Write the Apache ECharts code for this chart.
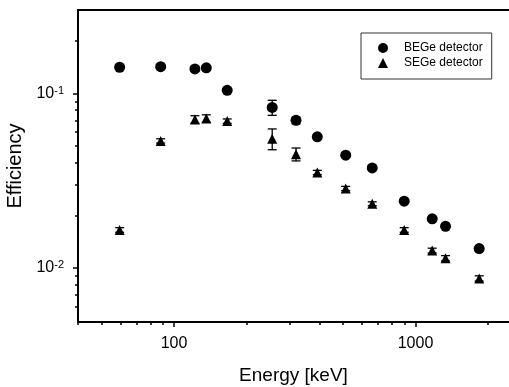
<!DOCTYPE html>
<html>
<head>
<meta charset="utf-8">
<script src="https://cdn.jsdelivr.net/npm/echarts@6/dist/echarts.min.js"></script>
<style>
  html, body { margin: 0; padding: 0; background: #fff; }
  #chart { width: 509px; height: 387px; }
</style>
</head>
<body>
<div id="chart"></div>
<script>
// gamma line energies (keV)
const energies = [59.5, 88, 122, 136, 166, 255, 320, 392, 514, 662, 898, 1173, 1332, 1836]

const begeEff = [0.141, 0.142, 0.138, 0.140, 0.104, 0.083, 0.070, 0.0563, 0.0442, 0.0374, 0.0241, 0.0191, 0.0173, 0.0129]
const begeErr = [0.001, 0.001, 0.004, 0.004, 0.002, 0.0082, 0.003, 0.001, 0.0008, 0.0008, 0.0004, 0.0003, 0.0003, 0.0002]

const segeEff = [0.0165, 0.0534, 0.0709, 0.0718, 0.0693, 0.0550, 0.0448, 0.0352, 0.0285, 0.0233, 0.0165, 0.01257, 0.01136, 0.00871]
const segeErr = [0.0005, 0.0015, 0.0035, 0.0035, 0.002, 0.0075, 0.0038, 0.001, 0.0008, 0.0006, 0.0005, 0.0004, 0.0004, 0.0003]

const xMajorTicks = [100, 1000]
const xMinorTicks = [40, 50, 60, 70, 80, 90, 200, 300, 400, 500, 600, 700, 800, 900, 2000]
const yMajorTicks = [0.01, 0.1]
const yMinorTicks = [0.006, 0.007, 0.008, 0.009, 0.02, 0.03, 0.04, 0.05, 0.06, 0.07, 0.08, 0.09, 0.2]

const FONT = 'Liberation Sans, Arial, sans-serif'
const X_MIN = 40, X_MAX = 2440
const Y_MIN = 0.0049, Y_MAX = 0.3

const chart = echarts.init(document.getElementById('chart'), null, { renderer: 'canvas' })

const gridRect = { left: 78, right: 0, top: 10, bottom: 65, containLabel: false, outerBoundsMode: 'none' }

function errData(eff, err) {
  return energies.map((e, i) => [e, eff[i] - err[i], eff[i] + err[i]])
}

function renderErrorBar(params, api) {
  const x = api.value(0)
  const top = api.coord([x, api.value(2)])
  const bot = api.coord([x, api.value(1)])
  const half = 4.5
  const style = { stroke: '#000', lineWidth: 1.3 }
  return {
    type: 'group',
    children: [
      { type: 'line', shape: { x1: top[0], y1: top[1], x2: bot[0], y2: bot[1] }, style },
      { type: 'line', shape: { x1: top[0] - half, y1: top[1], x2: top[0] + half, y2: top[1] }, style },
      { type: 'line', shape: { x1: bot[0] - half, y1: bot[1], x2: bot[0] + half, y2: bot[1] }, style },
    ],
  }
}

const hidden = { show: false }

chart.setOption({
  animation: false,
  textStyle: { fontFamily: FONT, color: '#000' },
  grid: [
    Object.assign({}, gridRect),
    Object.assign({}, gridRect),
  ],
  legend: {
    left: 361,
    top: 33,
    orient: 'vertical',
    padding: [8, 9, 9, 17],
    itemGap: 1,
    itemWidth: 10,
    itemHeight: 10,
    borderColor: '#333',
    borderWidth: 1,
    selectedMode: false,
    textStyle: { fontFamily: FONT, fontSize: 12, color: '#000', lineHeight: 14, padding: [0, 0, 0, 11] },
    data: [
      { name: 'BEGe detector', icon: 'circle' },
      { name: 'SEGe detector', icon: 'triangle' },
    ],
  },
  xAxis: [
    {
      type: 'log', gridIndex: 0, position: 'bottom', min: X_MIN, max: X_MAX,
      name: 'Energy [keV]', nameLocation: 'middle', nameGap: 44,
      nameTextStyle: { fontFamily: FONT, fontSize: 19, color: '#000' },
      axisLine: { show: true, lineStyle: { color: '#000', width: 2 } },
      axisTick: { show: true, length: 5, lineStyle: { color: '#000', width: 1.5 }, customValues: xMajorTicks },
      axisLabel: {
        show: true, margin: 14, fontFamily: FONT, fontSize: 16, color: '#000',
        customValues: xMajorTicks, formatter: (v) => String(Math.round(v)),
      },
      splitLine: hidden, minorTick: hidden,
    },
    {
      type: 'log', gridIndex: 0, position: 'top', min: X_MIN, max: X_MAX,
      axisLine: { show: true, lineStyle: { color: '#000', width: 2 } },
      axisTick: hidden, axisLabel: hidden, splitLine: hidden,
    },
    {
      type: 'log', gridIndex: 1, position: 'bottom', min: X_MIN, max: X_MAX,
      axisLine: hidden,
      axisTick: { show: true, length: 3, lineStyle: { color: '#000', width: 1.5 }, customValues: xMinorTicks },
      axisLabel: hidden, splitLine: hidden,
    },
  ],
  yAxis: [
    {
      type: 'log', gridIndex: 0, position: 'left', min: Y_MIN, max: Y_MAX,
      name: 'Efficiency', nameLocation: 'middle', nameGap: 48,
      nameTextStyle: { fontFamily: FONT, fontSize: 20, color: '#000' },
      axisLine: { show: true, lineStyle: { color: '#000', width: 2 } },
      axisTick: { show: true, length: 5, lineStyle: { color: '#000', width: 1.5 }, customValues: yMajorTicks },
      axisLabel: {
        show: true, margin: 14, fontFamily: FONT, fontSize: 16, color: '#000',
        customValues: yMajorTicks,
        formatter: (v) => '10{sup|' + Math.round(Math.log10(v)) + '}',
        rich: {
          sup: { fontFamily: FONT, fontSize: 11, color: '#000', verticalAlign: 'top', lineHeight: 11 },
        },
      },
      splitLine: hidden, minorTick: hidden,
    },
    {
      type: 'log', gridIndex: 1, position: 'left', min: Y_MIN, max: Y_MAX,
      axisLine: hidden,
      axisTick: { show: true, length: 3, lineStyle: { color: '#000', width: 1.5 }, customValues: yMinorTicks },
      axisLabel: hidden, splitLine: hidden,
    },
  ],
  series: [
    {
      type: 'custom', name: 'BEGe err', xAxisIndex: 0, yAxisIndex: 0,
      data: errData(begeEff, begeErr), encode: { x: 0, y: [1, 2] },
      renderItem: renderErrorBar, z: 1, silent: true,
    },
    {
      type: 'custom', name: 'SEGe err', xAxisIndex: 0, yAxisIndex: 0,
      data: errData(segeEff, segeErr), encode: { x: 0, y: [1, 2] },
      renderItem: renderErrorBar, z: 1, silent: true,
    },
    {
      type: 'scatter', name: 'BEGe detector', xAxisIndex: 0, yAxisIndex: 0,
      symbol: 'circle', symbolSize: 11, itemStyle: { color: '#000', opacity: 1 },
      data: energies.map((e, i) => [e, begeEff[i]]), z: 3,
    },
    {
      type: 'scatter', name: 'SEGe detector', xAxisIndex: 0, yAxisIndex: 0,
      symbol: 'triangle', symbolSize: 10, itemStyle: { color: '#000', opacity: 1 },
      data: energies.map((e, i) => [e, segeEff[i]]), z: 3,
    },
  ],
})
</script>
</body>
</html>
